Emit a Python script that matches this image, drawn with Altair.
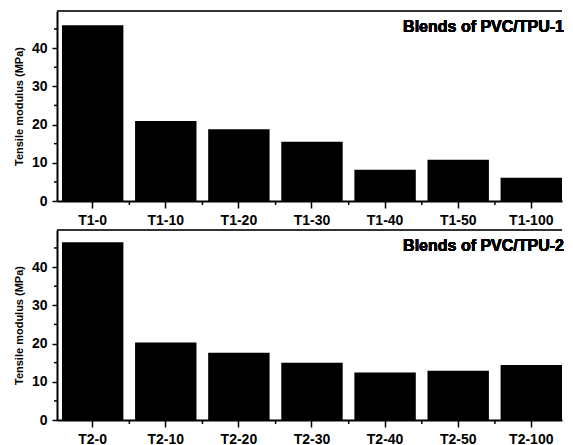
import altair as alt
import pandas as pd

# ---- data ----
samples_1 = ["T1-0", "T1-10", "T1-20", "T1-30", "T1-40", "T1-50", "T1-100"]
modulus_1 = [46.0, 20.9, 18.8, 15.5, 8.2, 10.8, 6.1]

samples_2 = ["T2-0", "T2-10", "T2-20", "T2-30", "T2-40", "T2-50", "T2-100"]
modulus_2 = [46.5, 20.3, 17.6, 15.0, 12.4, 12.9, 14.4]

panel_titles = ["Blends of PVC/TPU-1", "Blends of PVC/TPU-2"]
y_title = "Tensile modulus (MPa)"
major_ticks = [0, 10, 20, 30, 40]
minor_ticks = [5, 15, 25, 35, 45]

W = 505
H = 190
FONT = "Liberation Sans"


def panel(cats, vals, label):
    df = pd.DataFrame({"sample": cats, "modulus": vals})
    xscale = alt.Scale(paddingInner=0.16, paddingOuter=0.034, align=1)
    yscale = alt.Scale(domain=[0, 49.7], nice=False)
    xaxis = alt.Axis(title=None, labelAngle=0, tickSize=7, labelPadding=5)
    yaxis = alt.Axis(values=major_ticks, title=y_title, grid=False,
                     tickSize=5, labelPadding=5, titlePadding=7,
                     titleFontSize=11, titleFont=FONT, titleFontWeight="bold",
                     titleColor="black")

    bars = alt.Chart(df).mark_bar(color="black").encode(
        x=alt.X("sample:N", sort=cats, scale=xscale, axis=xaxis),
        y=alt.Y("modulus:Q", scale=yscale, axis=yaxis, title=y_title),
    )

    minor_y = alt.Chart(pd.DataFrame({"modulus": minor_ticks})).mark_rule(
        color="black", strokeWidth=1.5
    ).encode(
        y=alt.Y("modulus:Q", scale=yscale, title=y_title),
        x=alt.value(-3), x2=alt.value(0),
    )

    minor_x = alt.Chart(pd.DataFrame({"sample": cats[:-1]})).mark_rule(
        color="black", strokeWidth=1.5, xOffset=6
    ).encode(
        x=alt.X("sample:N", sort=cats, scale=xscale, bandPosition=1, title=None),
        y=alt.value(H), y2=alt.value(H + 4),
    )

    top_border = alt.Chart(df).mark_rule(color="#333333", strokeWidth=2).encode(
        x=alt.value(0), x2=alt.value(W), y=alt.value(0)
    )

    title = alt.Chart(df).mark_text(
        align="right", baseline="middle", font=FONT, fontWeight="bold",
        fontSize=16, color="black"
    ).encode(x=alt.value(W + 2), y=alt.value(16), text=alt.value(label))

    return alt.layer(bars, minor_y, minor_x, top_border, title).properties(
        width=W, height=H
    )


top = panel(samples_1, modulus_1, panel_titles[0])
bottom = panel(samples_2, modulus_2, panel_titles[1])

chart = alt.vconcat(top, bottom, spacing=2).properties(
    padding={"left": 5, "top": 2, "right": 0, "bottom": 0}
).configure_view(stroke=None).configure_axis(
    domainColor="black", domainWidth=2, tickColor="black", tickWidth=1.5,
    labelFont=FONT, labelFontWeight="bold", labelFontSize=14, labelColor="black",
)

chart.save("out.html", embed_options={"renderer": "svg", "actions": False})
